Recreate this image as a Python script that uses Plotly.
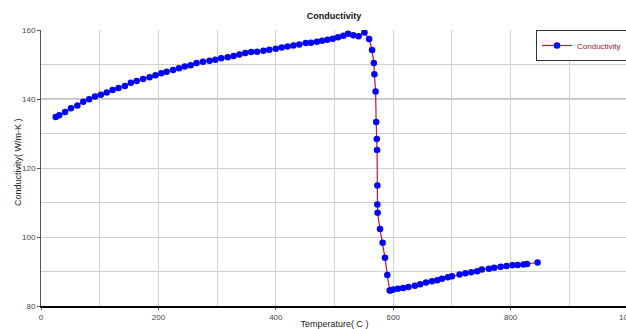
import plotly.graph_objects as go

temperature = [25, 31, 41, 51, 62, 72, 82, 92, 102, 112, 122, 132, 143, 153, 163,
               174, 185, 195, 205, 214, 225, 235, 245, 255, 265, 276, 287, 297,
               307, 318, 328, 338, 348, 358, 368, 379, 389, 400, 410, 420, 430,
               440, 451, 460, 470, 479, 488, 497, 506, 515, 523, 532, 541, 551,
               559, 564, 567, 568, 570, 571, 572, 572.5, 573, 573, 573.4, 577.5,
               582, 586, 590, 594, 596, 600, 608, 617, 626, 637, 646, 656, 666,
               675, 683, 693, 700, 713, 723, 733, 743, 751, 763, 772, 783, 793,
               803, 812, 822, 828, 846]
conductivity = [134.8, 135.3, 136.2, 137.3, 138.1, 139.2, 139.9, 140.7, 141.2, 141.9,
                142.6, 143.2, 143.8, 144.7, 145.2, 145.8, 146.3, 146.9, 147.5, 147.9,
                148.4, 148.9, 149.4, 149.8, 150.4, 150.8, 151.1, 151.4, 151.8, 152.1,
                152.5, 152.9, 153.3, 153.6, 153.7, 154.0, 154.3, 154.6, 154.9, 155.2,
                155.5, 155.8, 156.2, 156.3, 156.6, 156.9, 157.2, 157.5, 157.9, 158.3,
                158.9, 158.5, 158.2, 159.3, 157.4, 154.2, 150.4, 147.2, 142.2, 133.3,
                128.4, 125.2, 114.9, 109.4, 107.0, 102.3, 98.3, 94.0, 89.0, 84.5,
                84.6, 84.8, 85.0, 85.2, 85.5, 85.9, 86.3, 86.8, 87.2, 87.5, 87.9,
                88.3, 88.6, 89.1, 89.5, 89.8, 90.1, 90.6, 90.8, 91.1, 91.4, 91.6,
                91.8, 91.9, 92.0, 92.2, 92.6]

x_ticks = [0, 200, 400, 600, 800, 1000]
y_ticks = [80, 100, 120, 140, 160]

FONT = "Liberation Sans, Arial, sans-serif"
PLOT_W = 587

fig = go.Figure()
fig.add_trace(go.Scatter(
    x=temperature, y=conductivity, mode="lines+markers", name="Conductivity",
    line=dict(color="#d0102a", width=1.2),
    marker=dict(color="#0000ff", size=6.5, symbol="circle"),
))

fig.add_hline(y=140, line=dict(color="#c4c4c4", width=2), layer="below")

fig.update_layout(
    width=628, height=329,
    margin=dict(l=41, r=0, t=30, b=23, autoexpand=False),
    paper_bgcolor="white", plot_bgcolor="white",
    font=dict(family=FONT, size=8, color="#333333"),
    title=dict(text="<b>Conductivity</b>", x=0.532, xanchor="center",
               y=1 - 15.5 / 329, yanchor="middle",
               font=dict(family=FONT, size=9, color="#111111")),
    showlegend=True,
    legend=dict(x=(536 - 41) / PLOT_W, xanchor="left", y=1, yanchor="top",
                bordercolor="#333333", borderwidth=1, bgcolor="white",
                font=dict(family=FONT, size=8, color="#8b1a2a"),
                itemwidth=30, tracegroupgap=0),
    annotations=[dict(text="Conductivity( W/m-K )", textangle=-90,
                      xref="paper", yref="paper",
                      x=-(41 - 18.5) / PLOT_W, y=0.52,
                      xanchor="center", yanchor="middle", showarrow=False,
                      font=dict(family=FONT, size=9, color="#222222"))],
)

fig.update_xaxes(
    range=[0, 1000], tickvals=x_ticks, ticktext=[str(v) for v in x_ticks],
    ticklabeloverflow="allow",
    showgrid=True, gridcolor="#d0d0d0", gridwidth=1,
    minor=dict(dtick=100, tick0=0, showgrid=True, gridcolor="#d0d0d0", gridwidth=1),
    showline=True, linecolor="#000000", linewidth=2, mirror=False,
    ticks="outside", ticklen=2, tickcolor="#555555",
    tickfont=dict(size=8, color="#444444"), zeroline=False,
    title=dict(text="Temperature( C )", standoff=2,
               font=dict(family=FONT, size=9, color="#222222")),
)
fig.update_yaxes(
    range=[80, 160], tickvals=y_ticks, ticktext=[str(v) for v in y_ticks],
    showgrid=True, gridcolor="#d0d0d0", gridwidth=1,
    minor=dict(dtick=10, tick0=80, showgrid=True, gridcolor="#d0d0d0", gridwidth=1),
    showline=True, linecolor="#555555", linewidth=1, mirror=True,
    ticks="outside", ticklen=3, tickcolor="#555555",
    tickfont=dict(size=8, color="#444444"), zeroline=False,
)

fig.write_html("out.html",
               config={"displayModeBar": False, "responsive": False},
               post_script="document.body.style.margin='0';document.body.style.overflow='hidden';")
